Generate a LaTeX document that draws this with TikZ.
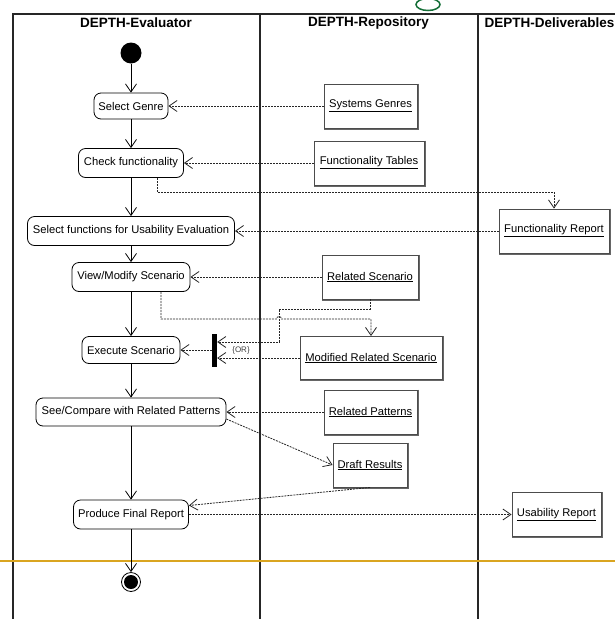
\documentclass[tikz,border=0pt]{standalone}
\usepackage{fontspec}
\setmainfont{Liberation Sans}
\usetikzlibrary{arrows.meta,calc}
\definecolor{rulegold}{RGB}{218,165,32}
\definecolor{markgreen}{RGB}{20,110,55}
\begin{document}
\begin{tikzpicture}[x=1pt,y=-1pt,
  lane/.style={line width=1.2pt, draw=black!85},
  action/.style={draw, rounded corners=7pt, line width=0.8pt, inner sep=0pt,
    font=\fontsize{11.2}{13}\selectfont},
  object/.style={draw=black!70, line width=0.9pt, inner sep=0pt,
    font=\fontsize{11.2}{13}\selectfont},
  flow/.style={line width=0.8pt, -{Straight Barb[length=8pt,width=11pt]}},
  dep/.style={line width=0.8pt, draw=black!85, dash pattern=on 2pt off 1pt,
    -{Straight Barb[length=8pt,width=11pt]}},
  head/.style={font=\bfseries\fontsize{13.5}{16}\selectfont}
]
\useasboundingbox (0,0) rectangle (615,619);
\clip (0,0) rectangle (615,619);

% swimlanes
\draw[lane] (615,14) -- (13,14) -- (13,619);
\draw[lane] (260,14) -- (260,619);
\draw[lane] (478,14) -- (478,619);
\node[head] (hEval) at (136,23) {DEPTH-Evaluator};
\node[head] (hRepo) at (368.5,23) {DEPTH-Repository};
\node[head] (hDeli) at (549.5,23) {DEPTH-Deliverables};

% hand-drawn mark at the top
\draw[markgreen, line width=1.5pt] (428,4.5) ellipse [x radius=12, y radius=6];

% divider
\draw[rulegold, line width=2pt] (0,561) -- (615,561);

% activities
\node[circle, fill, minimum size=21pt, inner sep=0pt] (start) at (131,53) {};
\node[action, minimum width=74pt, minimum height=26pt] (sg) at (131,106) {Select Genre};
\node[action, minimum width=105pt, minimum height=29pt] (cf) at (131,163) {Check functionality};
\node[action, minimum width=207pt, minimum height=29pt] (sf) at (131,231) {Select functions for Usability Evaluation};
\node[action, minimum width=118pt, minimum height=29pt] (vm) at (131,277) {View/Modify Scenario};
\node[action, minimum width=98pt, minimum height=27pt] (es) at (131,350) {Execute Scenario};
\node[action, minimum width=190pt, minimum height=28pt] (sc) at (131,412) {See/Compare with Related Patterns};
\node[action, minimum width=115pt, minimum height=29pt] (pf) at (131,514.5) {Produce Final Report};
\node[circle, draw, line width=0.8pt, fill=white, minimum size=19pt, inner sep=0pt] (end) at (131,582) {};
\fill (end.center) circle[radius=7pt];

% objects
\node[object, minimum width=93pt, minimum height=44pt] (sgen) at (370.5,106) {\underline{Systems Genres}};
\node[object, minimum width=110pt, minimum height=44pt] (ft) at (369,163) {\underline{Functionality Tables}};
\node[object, minimum width=110pt, minimum height=44pt] (fr) at (554,231) {\underline{Functionality Report}};
\node[object, minimum width=96pt, minimum height=44pt] (rs) at (370,277) {\underline{Related Scenario}};
\node[object, minimum width=142pt, minimum height=43pt] (mrs) at (371,358) {\underline{Modified Related Scenario}};
\node[object, minimum width=93pt, minimum height=44pt] (rp) at (370.5,412) {\underline{Related Patterns}};
\node[object, minimum width=74pt, minimum height=44pt] (dr) at (370,465) {\underline{Draft Results}};
\node[object, minimum width=89pt, minimum height=44pt] (ur) at (556.5,514.5) {\underline{Usability Report}};

% heavier right and bottom edges of the object boxes
\foreach \n in {sgen,ft,fr,rs,mrs,rp,dr,ur}
  \draw[black!60, line width=0.8pt] ([shift={(0.8,0)}]\n.north east)
    -- ([shift={(0.8,0.8)}]\n.south east) -- ([shift={(0,0.8)}]\n.south west);

% alternative-input bar
\node[fill, minimum width=5pt, minimum height=33pt, inner sep=0pt] (bar) at (214.5,350) {};
\node[font=\fontsize{8}{9}\selectfont, text=black!75] (or) at (241,350) {\{OR\}};

% control flow
\draw[flow] (start) -- (sg);
\draw[flow] (sg) -- (cf);
\draw[flow] (cf) -- (sf);
\draw[flow] (sf) -- (vm);
\draw[flow] (vm) -- (es);
\draw[flow] (es) -- (sc);
\draw[flow] (sc) -- (pf);
\draw[flow] (pf) -- (end);

% object flows
\coordinate (c1) at (157,192);
\coordinate (c2) at (161,319);
\coordinate (c3) at (279,309);
\coordinate (c4) at (279,342);
\coordinate (hop) at (279,319);

\draw[dep] (sgen.west) -- (sg.east);
\draw[dep] (ft.west) -- (cf.east);
\draw[dep] (cf.south -| c1) -- (c1) -| (fr.north);
\draw[dep] (fr.west) -- (sf.east);
\draw[dep] (rs.west) -- (vm.east);
\draw[dep] (vm.south -| c2) -- (c2) -- ([xshift=-2.5pt]hop)
  arc[start angle=180, end angle=0, radius=2.5pt] -| (mrs.north);
\draw[dep] (rs.south) |- (c3) -- (c4) -- (bar.east |- c4);
\draw[dep] (mrs.west) -- (bar.east |- mrs.west);
\draw[dep] (bar.west |- es.east) -- (es.east);
\draw[dep] (rp.west) -- (sc.east);
\draw[dep] ([yshift=-7pt]sc.east) -- (dr.west);
\draw[dep] (dr.south) -- ([yshift=9pt]pf.east);
\draw[dep] (pf.east) -- (ur.west);
\end{tikzpicture}
\end{document}
